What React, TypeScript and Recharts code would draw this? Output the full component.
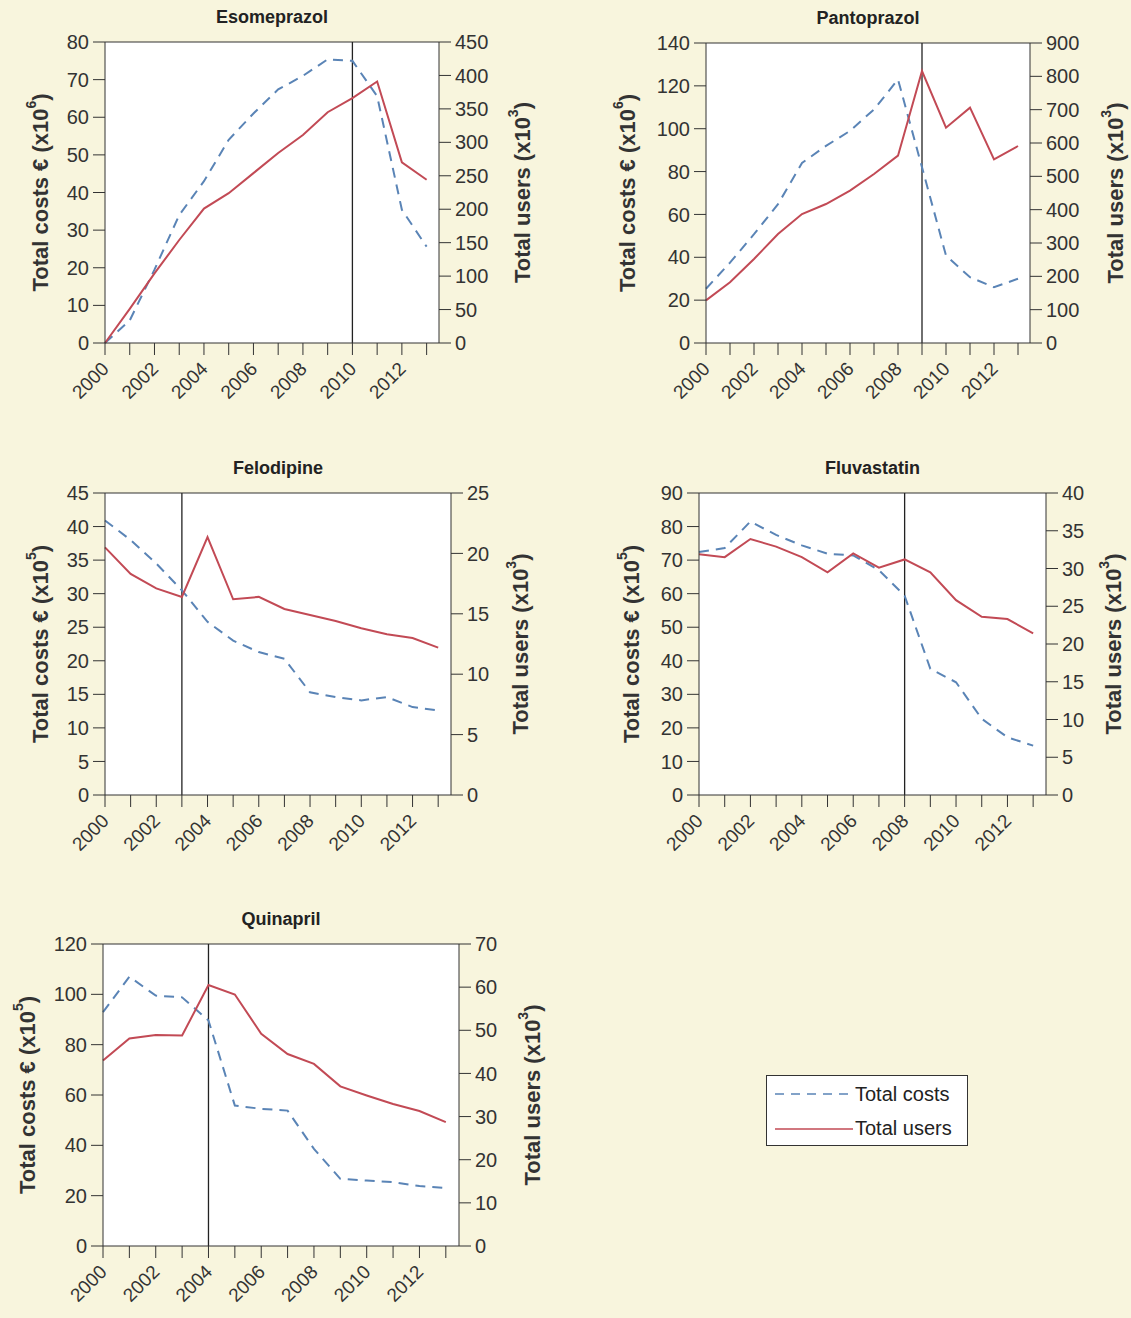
import React from 'react';
import { LineChart, Line, XAxis, YAxis, CartesianGrid, ReferenceLine, Legend } from 'recharts';

const years = [2000, 2001, 2002, 2003, 2004, 2005, 2006, 2007, 2008, 2009, 2010, 2011, 2012, 2013];

// Esomeprazol: costs x10^6, users x10^3
const esoCosts = [0, 6, 19.5, 34, 43, 54, 61, 67.4, 71, 75.4, 75, 65.6, 35.4, 25.6];
const esoUsers = [0, 51, 104, 154, 201, 224, 254, 284, 311, 345, 366, 391, 270, 244];

// Pantoprazol
const pantoCosts = [25.3, 37.5, 50.8, 64.8, 84, 92, 99, 109, 123, 82, 40.8, 30.7, 26, 30];
const pantoUsers = [128, 182, 252, 327, 387, 417, 457, 507, 562, 816, 646, 706, 551, 591];

// Felodipine: costs x10^5
const feloCosts = [40.9, 38, 34.5, 30.5, 25.8, 23, 21.3, 20.3, 15.3, 14.6, 14.1, 14.6, 13.1, 12.6];
const feloUsers = [20.5, 18.3, 17.1, 16.4, 21.35, 16.2, 16.4, 15.4, 14.9, 14.4, 13.8, 13.3, 13.0, 12.2];

// Fluvastatin
const fluvaCosts = [72.4, 73.6, 81.5, 77.5, 74.4, 71.9, 71.4, 67, 59.4, 37.6, 33.6, 22.7, 17.2, 14.7];
const fluvaUsers = [31.9, 31.5, 33.9, 32.9, 31.5, 29.5, 32, 30.1, 31.2, 29.5, 25.8, 23.6, 23.3, 21.4];

// Quinapril
const quinaCosts = [92.9, 107, 99.5, 98.8, 89.6, 55.8, 54.5, 53.8, 38.6, 26.7, 26, 25.4, 23.8, 23];
const quinaUsers = [43, 48.1, 48.9, 48.8, 60.5, 58.3, 49.2, 44.5, 42.2, 37, 34.9, 32.9, 31.3, 28.7];

const BLUE = '#5a84b6';
const RED = '#c24a55';
const AXIS = '#333';
const FONT = '"Liberation Sans", Arial, Helvetica, sans-serif';
const Y_W = 60;
const X_H = 70;

const YearTick = ({ x, y, payload }: any) => {
  if (payload.value % 2 !== 0) return null;
  const ax = x + 5;
  const ay = y + 13;
  return (
    <text
      x={ax}
      y={ay}
      transform={`rotate(-45 ${ax} ${ay})`}
      textAnchor="end"
      fill={AXIS}
      fontSize={19}
      fontFamily={FONT}
    >
      {payload.value}
    </text>
  );
};

const AxisTitle = (text: string, sup: string, absX: number, boxLeft: number) => (props: any) => {
  const vb = props.viewBox;
  const x = absX - boxLeft;
  const y = vb.y + vb.height / 2;
  return (
    <text
      x={x}
      y={y}
      transform={`rotate(-90 ${x} ${y})`}
      textAnchor="middle"
      dominantBaseline="central"
      fill={AXIS}
      fontSize={22}
      fontWeight="bold"
      fontFamily={FONT}
    >
      {text}
      <tspan dy={-9} fontSize={14}>{sup}</tspan>
      <tspan dy={9}>)</tspan>
    </text>
  );
};

const LegendBox = () => (
  <div
    style={{
      width: 200,
      height: 69,
      background: '#fff',
      border: `1px solid ${AXIS}`,
      fontFamily: FONT,
      fontSize: 20,
      color: '#222',
      boxSizing: 'content-box',
    }}
  >
    <div style={{ display: 'flex', alignItems: 'center', height: 36, paddingLeft: 8 }}>
      <svg width={80} height={10}>
        <line x1={0} y1={5} x2={78} y2={5} stroke={BLUE} strokeWidth={1.5} strokeDasharray="9 7" />
      </svg>
      <span>Total costs</span>
    </div>
    <div style={{ display: 'flex', alignItems: 'center', height: 33, paddingLeft: 8 }}>
      <svg width={80} height={10}>
        <line x1={0} y1={5} x2={78} y2={5} stroke={RED} strokeWidth={1.5} />
      </svg>
      <span>Total users</span>
    </div>
  </div>
);

interface PanelProps {
  title: string;
  costs: number[];
  users: number[];
  costTicks: number[];
  userTicks: number[];
  costExp: string;
  marker: number;
  box: { left: number; top: number; width: number; height: number };
  plot: { left: number; right: number; top: number; bottom: number };
  leftTitleX: number;
  rightTitleX: number;
  legend?: { left: number; top: number };
}

function Panel(p: PanelProps) {
  const data = years.map((year, i) => ({ year, costs: p.costs[i], users: p.users[i] }));
  const { box, plot } = p;
  const margin = {
    left: plot.left - box.left - Y_W,
    right: box.left + box.width - plot.right - Y_W,
    top: plot.top - box.top,
    bottom: box.top + box.height - plot.bottom - X_H,
  };
  const costMax = p.costTicks[p.costTicks.length - 1];
  const userMax = p.userTicks[p.userTicks.length - 1];
  const tickStyle = { fill: AXIS, fontSize: 20, fontFamily: FONT };
  return (
    <div style={{ position: 'absolute', left: box.left, top: box.top, width: box.width, height: box.height }}>
      <div
        style={{
          position: 'absolute',
          left: plot.left - box.left,
          width: plot.right - plot.left,
          top: plot.top - box.top - 35,
          textAlign: 'center',
          fontFamily: FONT,
          fontWeight: 'bold',
          fontSize: 18,
          color: '#222',
        }}
      >
        {p.title}
      </div>
      <LineChart width={box.width} height={box.height} data={data} margin={margin}>
        <CartesianGrid yAxisId="l" horizontal={false} vertical={false} fill="#fff" stroke="none" />
        <XAxis
          dataKey="year"
          type="number"
          domain={[2000, 2013.5]}
          ticks={years}
          interval={0}
          tickSize={12}
          height={X_H}
          stroke={AXIS}
          tick={<YearTick />}
        />
        <YAxis
          yAxisId="l"
          domain={[0, costMax]}
          ticks={p.costTicks}
          interval={0}
          tickSize={12}
          tickMargin={4}
          width={Y_W}
          stroke={AXIS}
          tick={tickStyle}
          label={{ content: AxisTitle('Total costs € (x10', p.costExp, p.leftTitleX, box.left) }}
        />
        <YAxis
          yAxisId="r"
          orientation="right"
          domain={[0, userMax]}
          ticks={p.userTicks}
          interval={0}
          tickSize={12}
          tickMargin={4}
          width={Y_W}
          stroke={AXIS}
          tick={tickStyle}
          label={{ content: AxisTitle('Total users (x10', '3', p.rightTitleX, box.left) }}
        />
        <ReferenceLine yAxisId="l" y={costMax} stroke={AXIS} strokeWidth={1.2} />
        <ReferenceLine yAxisId="l" x={p.marker} stroke="#222" strokeWidth={1.3} />
        <Line
          yAxisId="l"
          dataKey="costs"
          name="Total costs"
          stroke={BLUE}
          strokeWidth={2}
          strokeDasharray="10 7"
          dot={false}
          isAnimationActive={false}
        />
        <Line
          yAxisId="r"
          dataKey="users"
          name="Total users"
          stroke={RED}
          strokeWidth={2}
          dot={false}
          isAnimationActive={false}
        />
        {p.legend && (
          <Legend
            layout="vertical"
            align="center"
            verticalAlign="middle"
            content={() => <LegendBox />}
            wrapperStyle={{ left: p.legend.left - box.left, top: p.legend.top - box.top, width: 202 }}
          />
        )}
      </LineChart>
    </div>
  );
}

export default function App() {
  return (
    <div
      style={{
        position: 'absolute',
        left: 0,
        top: 0,
        width: 1131,
        height: 1318,
        background: '#f8f5dd',
        overflow: 'hidden',
      }}
    >
      <Panel
        title="Esomeprazol"
        costs={esoCosts}
        users={esoUsers}
        costTicks={[0, 10, 20, 30, 40, 50, 60, 70, 80]}
        userTicks={[0, 50, 100, 150, 200, 250, 300, 350, 400, 450]}
        costExp="6"
        marker={2010}
        box={{ left: 0, top: 0, width: 560, height: 440 }}
        plot={{ left: 105, right: 439, top: 42, bottom: 343 }}
        leftTitleX={40}
        rightTitleX={522}
      />
      <Panel
        title="Pantoprazol"
        costs={pantoCosts}
        users={pantoUsers}
        costTicks={[0, 20, 40, 60, 80, 100, 120, 140]}
        userTicks={[0, 100, 200, 300, 400, 500, 600, 700, 800, 900]}
        costExp="6"
        marker={2009}
        box={{ left: 565, top: 0, width: 566, height: 440 }}
        plot={{ left: 706, right: 1030, top: 43, bottom: 343 }}
        leftTitleX={627}
        rightTitleX={1115}
      />
      <Panel
        title="Felodipine"
        costs={feloCosts}
        users={feloUsers}
        costTicks={[0, 5, 10, 15, 20, 25, 30, 35, 40, 45]}
        userTicks={[0, 5, 10, 15, 20, 25]}
        costExp="5"
        marker={2003}
        box={{ left: 0, top: 450, width: 560, height: 440 }}
        plot={{ left: 105, right: 451, top: 493, bottom: 795 }}
        leftTitleX={40}
        rightTitleX={520}
      />
      <Panel
        title="Fluvastatin"
        costs={fluvaCosts}
        users={fluvaUsers}
        costTicks={[0, 10, 20, 30, 40, 50, 60, 70, 80, 90]}
        userTicks={[0, 5, 10, 15, 20, 25, 30, 35, 40]}
        costExp="5"
        marker={2008}
        box={{ left: 565, top: 450, width: 566, height: 440 }}
        plot={{ left: 699, right: 1046, top: 493, bottom: 795 }}
        leftTitleX={631}
        rightTitleX={1113}
      />
      <Panel
        title="Quinapril"
        costs={quinaCosts}
        users={quinaUsers}
        costTicks={[0, 20, 40, 60, 80, 100, 120]}
        userTicks={[0, 10, 20, 30, 40, 50, 60, 70]}
        costExp="5"
        marker={2004}
        box={{ left: 0, top: 900, width: 1000, height: 418 }}
        plot={{ left: 103, right: 459, top: 944, bottom: 1246 }}
        leftTitleX={27}
        rightTitleX={532}
        legend={{ left: 766, top: 1075 }}
      />
    </div>
  );
}
